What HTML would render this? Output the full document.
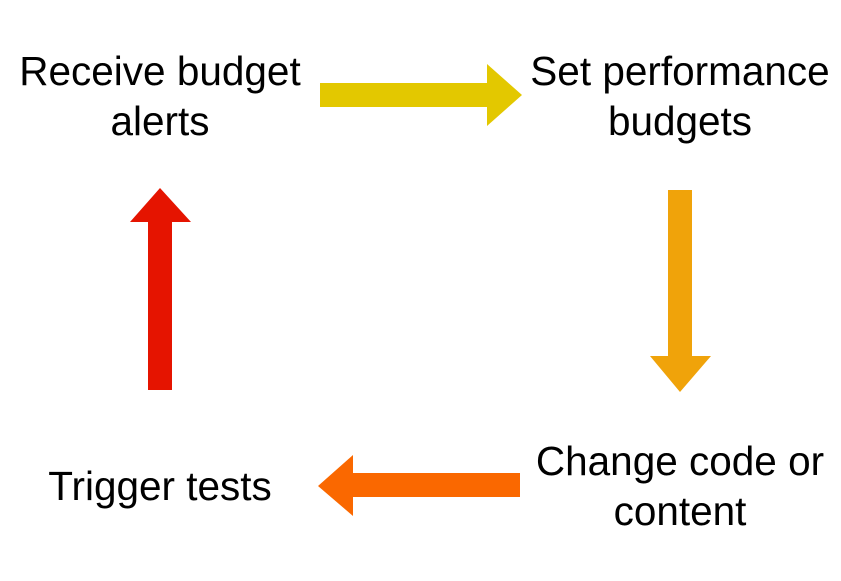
<!DOCTYPE html>
<html><head><style>
body{margin:0;width:841px;height:581px;background:#fff;overflow:hidden;position:relative;font-family:"Liberation Sans",sans-serif;}
.t{position:absolute;font-size:40.5px;line-height:50px;text-align:center;color:#000;width:340px;}
</style></head><body>
<svg width="841" height="581" style="position:absolute;left:0;top:0">
<polygon points="320,83 487,83 487,64 522,95 487,126 487,107 320,107" fill="#e3c800"/>
<polygon points="668,190 692,190 692,356 711,356 680,392 650,356 668,356" fill="#f0a30a"/>
<polygon points="520,473 353,473 353,455 318,486 353,516 353,497 520,497" fill="#fa6800"/>
<polygon points="148,390 172,390 172,222 191,222 160,188 130,222 148,222" fill="#e51400"/>
</svg>
<div class="t" style="left:-10px;top:46px">Receive budget<br>alerts</div>
<div class="t" style="left:510px;top:46px">Set performance<br>budgets</div>
<div class="t" style="left:510px;top:436px">Change code or<br>content</div>
<div class="t" style="left:-10px;top:461px">Trigger tests</div>
</body></html>
